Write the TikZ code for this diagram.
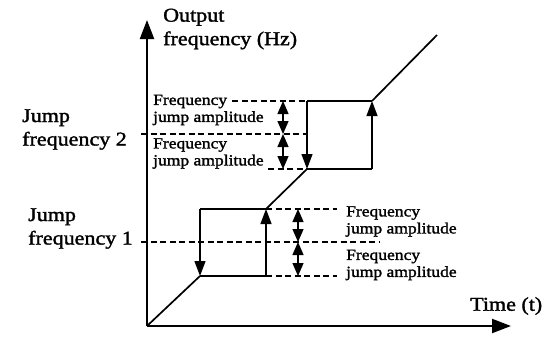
\documentclass[tikz,border=0pt]{standalone}
\usepackage{fontspec}
\setmainfont{Liberation Serif}[FakeStretch=1.13,FakeBold=1.6]
\usetikzlibrary{arrows.meta}
\begin{document}
\begin{tikzpicture}[x=1pt,y=-1pt,
  axis/.style={line width=2.2pt,-{Triangle[width=14pt,length=19pt]}},
  curve/.style={line width=1.7pt},
  boxline/.style={line width=1.3pt},
  uparrow/.style={line width=1.3pt,-{Triangle[width=11pt,length=15pt]}},
  dashline/.style={line width=1.3pt,dash pattern=on 6pt off 3.5pt},
  amp/.style={line width=1.3pt,{Triangle[width=11pt,length=13pt]}-{Triangle[width=11pt,length=13pt]}},
  small/.style={inner sep=0pt,anchor=west,align=left,font=\fontsize{15.5}{17}\selectfont},
  big/.style={inner sep=0pt,anchor=west,align=left,font=\fontsize{19.5}{23.5}\selectfont}]
\useasboundingbox (0,0) rectangle (548,340);
% key points
\coordinate (O) at (147,326);
\coordinate (Ytop) at (147,20);
\coordinate (Xend) at (511,326);
\coordinate (A) at (200,276);
\coordinate (B) at (266,276);
\coordinate (C) at (266,209);
\coordinate (D) at (200,209);
\coordinate (E) at (307,169);
\coordinate (F) at (372,169);
\coordinate (G) at (372,101);
\coordinate (H) at (307,101);
\coordinate (T) at (437,35);
% dashed ends
\coordinate (L1) at (337,209);
\coordinate (L2) at (337,276);
\coordinate (M1a) at (141,242);
\coordinate (M1b) at (380,242);
\coordinate (U1) at (232,101);
\coordinate (U2) at (268,169);
\coordinate (M2a) at (141,134);
\coordinate (M2b) at (307,134);
\coordinate (P1) at (298,209);
\coordinate (P2) at (298,242);
\coordinate (P3) at (298,276);
\coordinate (Q1) at (283,101);
\coordinate (Q2) at (283,134);
\coordinate (Q3) at (283,169);
% axes
\draw[axis] (O) -- (Ytop);
\draw[axis] (O) -- (Xend);
% dashed lines
\draw[dashline] (C) -- (L1);
\draw[dashline] (B) -- (L2);
\draw[dashline] (M1a) -- (M1b);
\draw[dashline] (U1) -- (H);
\draw[dashline] (U2) -- (E);
\draw[dashline] (M2a) -- (M2b);
% curve
\draw[curve] (O) -- (A);
\draw[boxline] (A) -- (B);
\draw[curve] (C) -- (E);
\draw[boxline] (E) -- (F);
\draw[curve] (G) -- (T);
\draw[boxline] (D) -- (C);
\draw[boxline] (H) -- (G);
\draw[uparrow] (B) -- (C);
\draw[uparrow] (F) -- (G);
\draw[uparrow] (D) -- (A);
\draw[uparrow] (H) -- (E);
% amplitude arrows
\draw[amp] (P1) -- (P2);
\draw[amp] (P2) -- (P3);
\draw[amp] (Q1) -- (Q2);
\draw[amp] (Q2) -- (Q3);
% labels
\node[big] (ylab) at (163,29) {Output\\frequency (Hz)};
\node[big] (xlab) at (470,306) {Time (t)};
\node[big] (j2) at (22,129.5) {Jump\\frequency 2};
\node[big] (j1) at (28,228.5) {Jump\\frequency 1};
\node[small] (a1) at (153,110) {Frequency\\jump amplitude};
\node[small] (a2) at (153,153.5) {Frequency\\jump amplitude};
\node[small] (a3) at (346,221.5) {Frequency\\jump amplitude};
\node[small] (a4) at (346,265) {Frequency\\jump amplitude};
\end{tikzpicture}
\end{document}
